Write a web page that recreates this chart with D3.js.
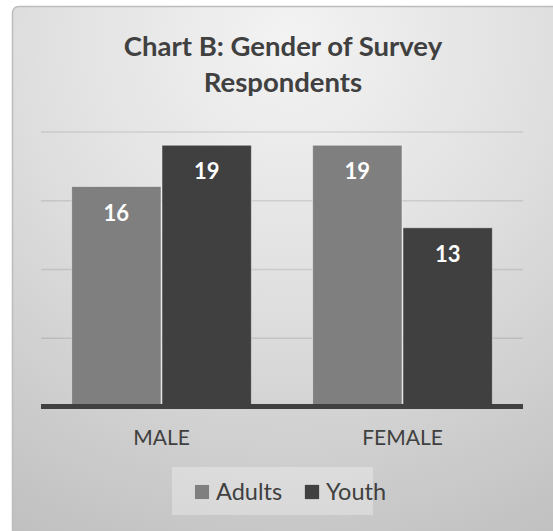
<!DOCTYPE html>
<html>
<head>
<meta charset="utf-8">
<script src="https://cdn.jsdelivr.net/npm/d3@7"></script>
<style>
  html, body { margin: 0; padding: 0; background: #ffffff; }
  svg { display: block; }
  text { font-family: Lato, "Open Sans", sans-serif; }
</style>
</head>
<body>
<svg id="chart" width="553" height="531"></svg>
<script>
// ---- data ----
const titleLines = ["Chart B: Gender of Survey", "Respondents"];
const categories = ["MALE", "FEMALE"];
const seriesNames = ["Adults", "Youth"];
const adultsValues = [16, 19];
const youthValues = [19, 13];
const yTicks = [0, 5, 10, 15, 20];
const seriesColors = ["#7f7f7f", "#404040"];

const svg = d3.select("#chart");

// ---- background ----
const defs = svg.append("defs");
const grad = defs.append("radialGradient")
  .attr("id", "bg").attr("gradientUnits", "userSpaceOnUse")
  .attr("cx", 290).attr("cy", 40).attr("r", 560);
grad.append("stop").attr("offset", "0").attr("stop-color", "#f3f3f3");
grad.append("stop").attr("offset", "0.45").attr("stop-color", "#e0e0e0");
grad.append("stop").attr("offset", "1").attr("stop-color", "#c0c0c0");

svg.append("rect")
  .attr("x", 12.5).attr("y", 6.5)
  .attr("width", 560).attr("height", 540)
  .attr("rx", 6).attr("ry", 6)
  .attr("fill", "url(#bg)")
  .attr("stroke", "#bdbdbd").attr("stroke-width", 1.5);

// ---- scales ----
const x0 = d3.scaleBand().domain(categories).range([41, 523])
  .paddingInner(0.25).paddingOuter(0.125);
const x1 = d3.scaleBand().domain(seriesNames).range([0, x0.bandwidth()]).padding(0);
const y = d3.scaleLinear().domain([0, 20]).range([406.5, 131.5]);
const color = d3.scaleOrdinal().domain(seriesNames).range(seriesColors);

// ---- gridlines ----
const yAxis = d3.axisLeft(y).tickValues(yTicks.filter(v => v > 0))
  .tickSize(-(523 - 41)).tickFormat("");
const gGrid = svg.append("g").attr("transform", "translate(41,0)").call(yAxis);
gGrid.select(".domain").remove();
gGrid.selectAll(".tick line")
  .attr("stroke", "#000").attr("stroke-opacity", 0.1).attr("stroke-width", 1.5);

// ---- bars ----
const rows = categories.map((c, i) => ({
  cat: c,
  vals: [{ s: "Adults", v: adultsValues[i] }, { s: "Youth", v: youthValues[i] }]
}));

const groups = svg.append("g").selectAll("g").data(rows).join("g")
  .attr("transform", d => `translate(${x0(d.cat)},0)`);

groups.selectAll("rect").data(d => d.vals).join("rect")
  .attr("x", d => x1(d.s) + 0.5)
  .attr("width", x1.bandwidth() - 1)
  .attr("y", d => y(d.v))
  .attr("height", d => y(0) - y(d.v))
  .attr("fill", d => color(d.s))
  .attr("stroke", "#ffffff").attr("stroke-opacity", 0.45).attr("stroke-width", 1);

// value labels
groups.selectAll("text").data(d => d.vals).join("text")
  .attr("x", d => x1(d.s) + x1.bandwidth() / 2)
  .attr("y", d => y(d.v) + 34)
  .attr("text-anchor", "middle")
  .attr("font-weight", "bold")
  .attr("font-size", 22)
  .attr("fill", "#ffffff")
  .text(d => d.v);

// ---- baseline axis ----
svg.append("line")
  .attr("x1", 41).attr("x2", 523).attr("y1", y(0)).attr("y2", y(0))
  .attr("stroke", "#404040").attr("stroke-width", 5);

// category labels
svg.append("g").selectAll("text").data(categories).join("text")
  .attr("x", d => x0(d) + x0.bandwidth() / 2)
  .attr("y", 445)
  .attr("text-anchor", "middle")
  .attr("font-size", 21)
  .attr("fill", "#404040")
  .text(d => d);

// ---- title ----
svg.append("g").selectAll("text").data(titleLines).join("text")
  .attr("x", 283).attr("y", (d, i) => 56 + i * 36)
  .attr("text-anchor", "middle").attr("font-weight", "bold")
  .attr("font-size", 27.5).attr("fill", "#404040")
  .text(d => d);

// ---- legend ----
const lg = svg.append("g");
lg.append("rect")
  .attr("x", 172).attr("y", 467).attr("width", 201).attr("height", 48)
  .attr("fill", "#ffffff").attr("fill-opacity", 0.3);
const legX = [194, 304];
const items = lg.selectAll("g").data(seriesNames).join("g")
  .attr("transform", (d, i) => `translate(${legX[i]},484)`);
items.append("rect")
  .attr("width", 15).attr("height", 15).attr("x", 0.5).attr("y", 0.5)
  .attr("fill", d => color(d))
  .attr("stroke", "#ffffff").attr("stroke-opacity", 0.5).attr("stroke-width", 1);
items.append("text")
  .attr("x", 22).attr("y", 16)
  .attr("font-size", 23.5).attr("fill", "#404040")
  .text(d => d);
</script>
</body>
</html>
